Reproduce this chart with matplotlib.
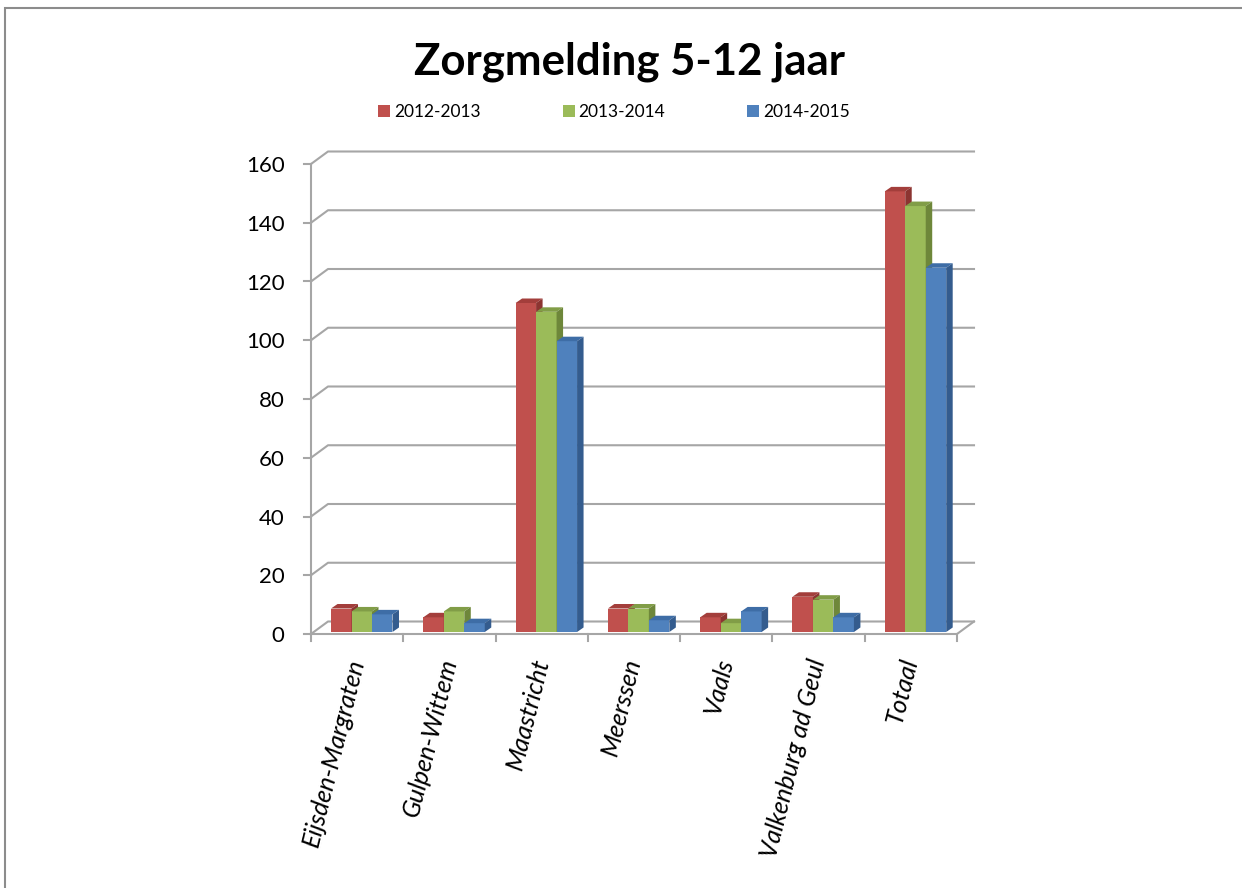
import numpy as np
import matplotlib
matplotlib.use("Agg")
import matplotlib.pyplot as plt
from matplotlib.patches import Polygon, Patch, Rectangle

plt.rcParams['font.family'] = ['Lato', 'DejaVu Sans']

gemeenten = ["Eijsden-Margraten", "Gulpen-Wittem", "Maastricht", "Meerssen",
             "Vaals", "Valkenburg ad Geul", "Totaal"]
jaren = ["2012-2013", "2013-2014", "2014-2015"]
v_2012 = [8, 5, 112, 8, 5, 12, 150]
v_2013 = [7, 7, 109, 8, 3, 11, 145]
v_2014 = [6, 3, 99, 4, 7, 5, 124]
yticks = [0, 20, 40, 60, 80, 100, 120, 140, 160]

front = ["#C0504D", "#9BBB59", "#4F81BD"]
top_c = ["#A33E3B", "#819D47", "#3E6DA6"]
side_c = ["#8C3431", "#6E873A", "#345C8E"]
grid_c = "#A6A6A6"

W, H = 1242, 888
fig = plt.figure(figsize=(W / 100, H / 100), dpi=100)
ax = fig.add_axes([311 / W, 1 - 634 / H, 646 / W, 470 / H])
ax.set_xlim(-0.5, 6.5)
ax.set_ylim(0, 160)
for s in ax.spines.values():
    s.set_visible(False)

# pixel -> data helpers
px_x = 7 / 646
px_y = 160 / 470
DXW, DYW = 17 * px_x, 12.5 * px_y   # wall depth
DXB, DYB = 6.5 * px_x, 4.5 * px_y   # bar depth
BASE = 2 * px_y
BW = 0.222
SHIFT = 0.05

# back wall / floor gridlines
for v in yticks:
    ax.plot([-0.5, -0.5 + DXW, 6.5 + DXW], [v, v + DYW, v + DYW],
            color=grid_c, lw=1.5, clip_on=False, zorder=1)
ax.plot([-0.5, 6.5, 6.5 + DXW], [0, 0, DYW], color=grid_c, lw=1.5,
        clip_on=False, zorder=1)
ax.plot([-0.5, -0.5], [0, 160], color=grid_c, lw=1.5, clip_on=False, zorder=1)
for v in yticks:
    ax.plot([-0.5 - 7 * px_x, -0.5], [v, v], color=grid_c, lw=1.5,
            clip_on=False, zorder=1)
for b in np.arange(-0.5, 7.0, 1.0):
    ax.plot([b, b], [0, -7 * px_y], color=grid_c, lw=1.5, clip_on=False, zorder=1)

# bars
x = np.arange(len(gemeenten))
for j, vals in enumerate([v_2012, v_2013, v_2014]):
    xc = x + SHIFT + (j - 1) * BW
    ax.bar(xc, vals, BW, bottom=BASE, color=front[j], zorder=3 + j,
           clip_on=False, linewidth=0)
    for xi, v in zip(xc, vals):
        t = v + BASE
        l, r = xi - BW / 2, xi + BW / 2
        ax.add_patch(Polygon([(l, t), (r, t), (r + DXB, t + DYB), (l + DXB, t + DYB)],
                             closed=True, facecolor=top_c[j], lw=0,
                             zorder=3 + j, clip_on=False))
        ax.add_patch(Polygon([(r, BASE), (r + DXB, BASE + DYB), (r + DXB, t + DYB), (r, t)],
                             closed=True, facecolor=side_c[j], lw=0,
                             zorder=3 + j, clip_on=False))

ax.set_yticks(yticks)
ax.set_yticklabels([str(v) for v in yticks], fontsize=16)
ax.tick_params(axis='y', length=0, pad=19)
ax.set_xticks(x)
ax.set_xticklabels(gemeenten, rotation=76, ha='right', va='center',
                   rotation_mode='anchor', fontsize=18, style='italic')
ax.tick_params(axis='x', length=0, pad=18)

fig.text(630 / W, 1 - 62 / H, "Zorgmelding 5-12 jaar", ha='center', va='center',
         fontsize=31.5, fontweight='bold')

handles = [Patch(facecolor=c, edgecolor='none') for c in front]
fig.legend(handles, jaren, loc='center', bbox_to_anchor=(614 / W, 1 - 112 / H),
           ncol=3, frameon=False, fontsize=12.5, handlelength=0.69,
           handleheight=0.69, handletextpad=0.23, columnspacing=4.7)

fig.patches.append(Rectangle((5 / W, -0.1), 1.2, 1.1 - 8 / H,
                             transform=fig.transFigure, fill=False,
                             edgecolor="#8C8C8C", lw=1.5))

fig.savefig("out.png", dpi=100)
